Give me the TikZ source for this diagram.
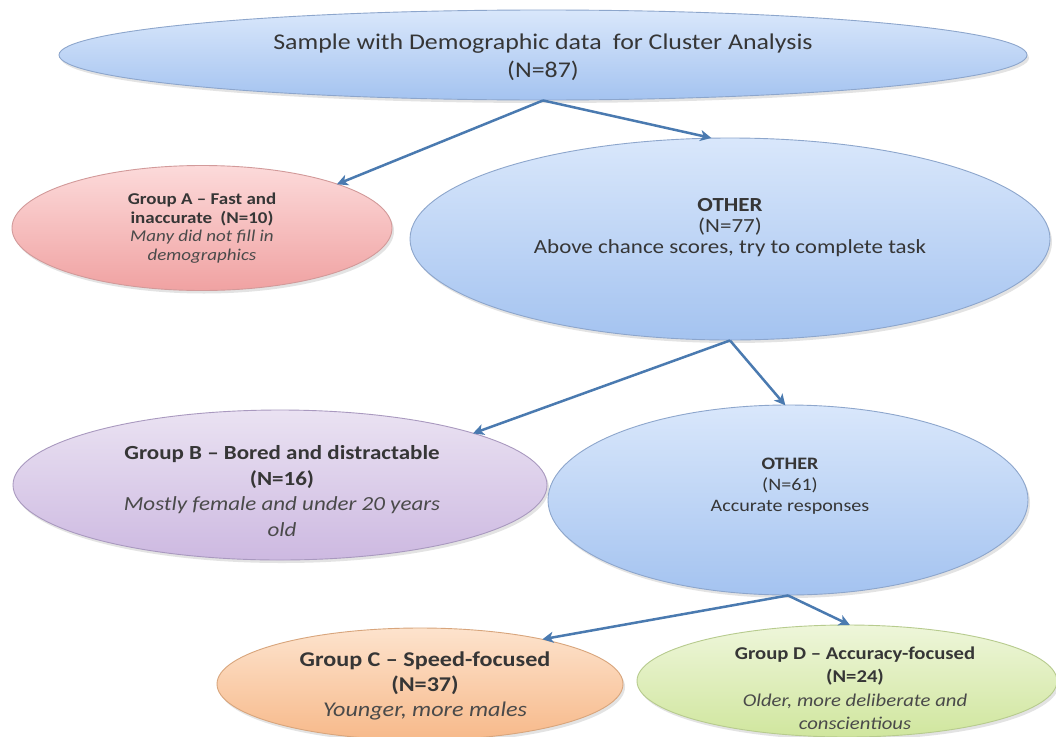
\documentclass[tikz,border=0pt]{standalone}
\usepackage{fontspec}
\setmainfont{Carlito}[FakeStretch=1.15]
\usetikzlibrary{shapes.geometric,arrows.meta,shadows}
\definecolor{txtdark}{HTML}{363636}
\definecolor{txtit}{HTML}{4A4A4A}
\definecolor{arrowblue}{HTML}{4A7AB0}
\tikzset{
  ell/.style={ellipse, inner sep=0pt, line width=0.9pt,
    drop shadow={opacity=0.22, shadow xshift=2pt, shadow yshift=-3pt}},
  blueell/.style={ell, draw=blueline, top color=bluetop, bottom color=bluebot},
  redell/.style={ell, draw=redline, top color=redtop, bottom color=redbot},
  purpell/.style={ell, draw=purpline, top color=purptop, bottom color=purpbot},
  orell/.style={ell, draw=orline, top color=ortop, bottom color=orbot},
  grell/.style={ell, draw=grline, top color=grtop, bottom color=grbot},
  lbl/.style={align=center, inner sep=0pt, text=txtdark},
  arr/.style={draw=arrowblue, line width=2.5pt,
    -{Stealth[length=11pt, width=11pt, inset=3pt]}, shorten >=-1pt}
}
\definecolor{blueline}{HTML}{8DA6CC}
\definecolor{bluetop}{HTML}{D9E7FB}
\definecolor{bluebot}{HTML}{A4C3F0}
\definecolor{redline}{HTML}{D29A9A}
\definecolor{redtop}{HTML}{FCDADA}
\definecolor{redbot}{HTML}{F0A2A2}
\definecolor{purpline}{HTML}{A999BF}
\definecolor{purptop}{HTML}{EAE2F2}
\definecolor{purpbot}{HTML}{CDB9E1}
\definecolor{orline}{HTML}{D8A57C}
\definecolor{ortop}{HTML}{FDE3CD}
\definecolor{orbot}{HTML}{F7B98A}
\definecolor{grline}{HTML}{B7CB8E}
\definecolor{grtop}{HTML}{EEF6DA}
\definecolor{grbot}{HTML}{D0E69E}
\begin{document}
\begin{tikzpicture}[x=1pt, y=-1pt]
\useasboundingbox (0,0) rectangle (1056,736);
\fill[white] (0,0) rectangle (1056,736);

% ellipses
\node[blueell, minimum width=968pt, minimum height=90pt] (top) at (543,55) {};
\node[redell, minimum width=380pt, minimum height=125pt] (A) at (202,228) {};
\node[blueell, minimum width=640pt, minimum height=202pt] (O77) at (730,239) {};
\node[purpell, minimum width=534pt, minimum height=150pt] (B) at (280,485) {};
\node[blueell, minimum width=480pt, minimum height=190pt] (O61) at (788,500) {};
\node[orell, minimum width=406pt, minimum height=112pt] (C) at (420,684) {};
\node[grell, minimum width=420pt, minimum height=112pt] (D) at (847,681) {};

% texts
\node[lbl, font=\fontsize{22.5}{28}\selectfont] (topt) at (543,57)
  {Sample with Demographic data\enspace for Cluster Analysis\\(N=87)};
\node[lbl, font=\fontsize{16.5}{18.5}\selectfont] (At) at (202,228)
  {\textbf{Group A – Fast and}\\\textbf{inaccurate\enspace(N=10)}\\{\color{txtit}\textit{Many did not fill in}}\\{\color{txtit}\textit{demographics}}};
\node[lbl, font=\fontsize{20}{21}\selectfont] (O77t) at (730,228)
  {\textbf{OTHER}\\(N=77)\\Above chance scores, try to complete task};
\node[lbl, font=\fontsize{20}{25.5}\selectfont] (Bt) at (282,491)
  {\textbf{Group B – Bored and distractable}\\\textbf{(N=16)}\\{\color{txtit}\textit{Mostly female and under 20 years}}\\{\color{txtit}\textit{old}}};
\node[lbl, font=\fontsize{17.5}{21}\selectfont] (O61t) at (790,486)
  {\textbf{OTHER}\\(N=61)\\Accurate responses};
\node[lbl, font=\fontsize{21}{25}\selectfont] (Ct) at (425,686)
  {\textbf{Group C – Speed-focused}\\\textbf{(N=37)}\\{\color{txtit}\textit{Younger, more males}}};
\node[lbl, font=\fontsize{18}{23.5}\selectfont] (Dt) at (855,688)
  {\textbf{Group D – Accuracy-focused}\\\textbf{(N=24)}\\{\color{txtit}\textit{Older, more deliberate and}}\\{\color{txtit}\textit{conscientious}}};

% connectors
\draw[arr] (top.south) -- (A.18);
\draw[arr] (top.south) -- (O77.101);
\draw[arr] (O77.south) -- (B.15);
\draw[arr] (O77.south) -- (O61.92);
\draw[arr] (O61.south) -- (C.20);
\draw[arr] (O61.south) -- (D.88);
\end{tikzpicture}
\end{document}
